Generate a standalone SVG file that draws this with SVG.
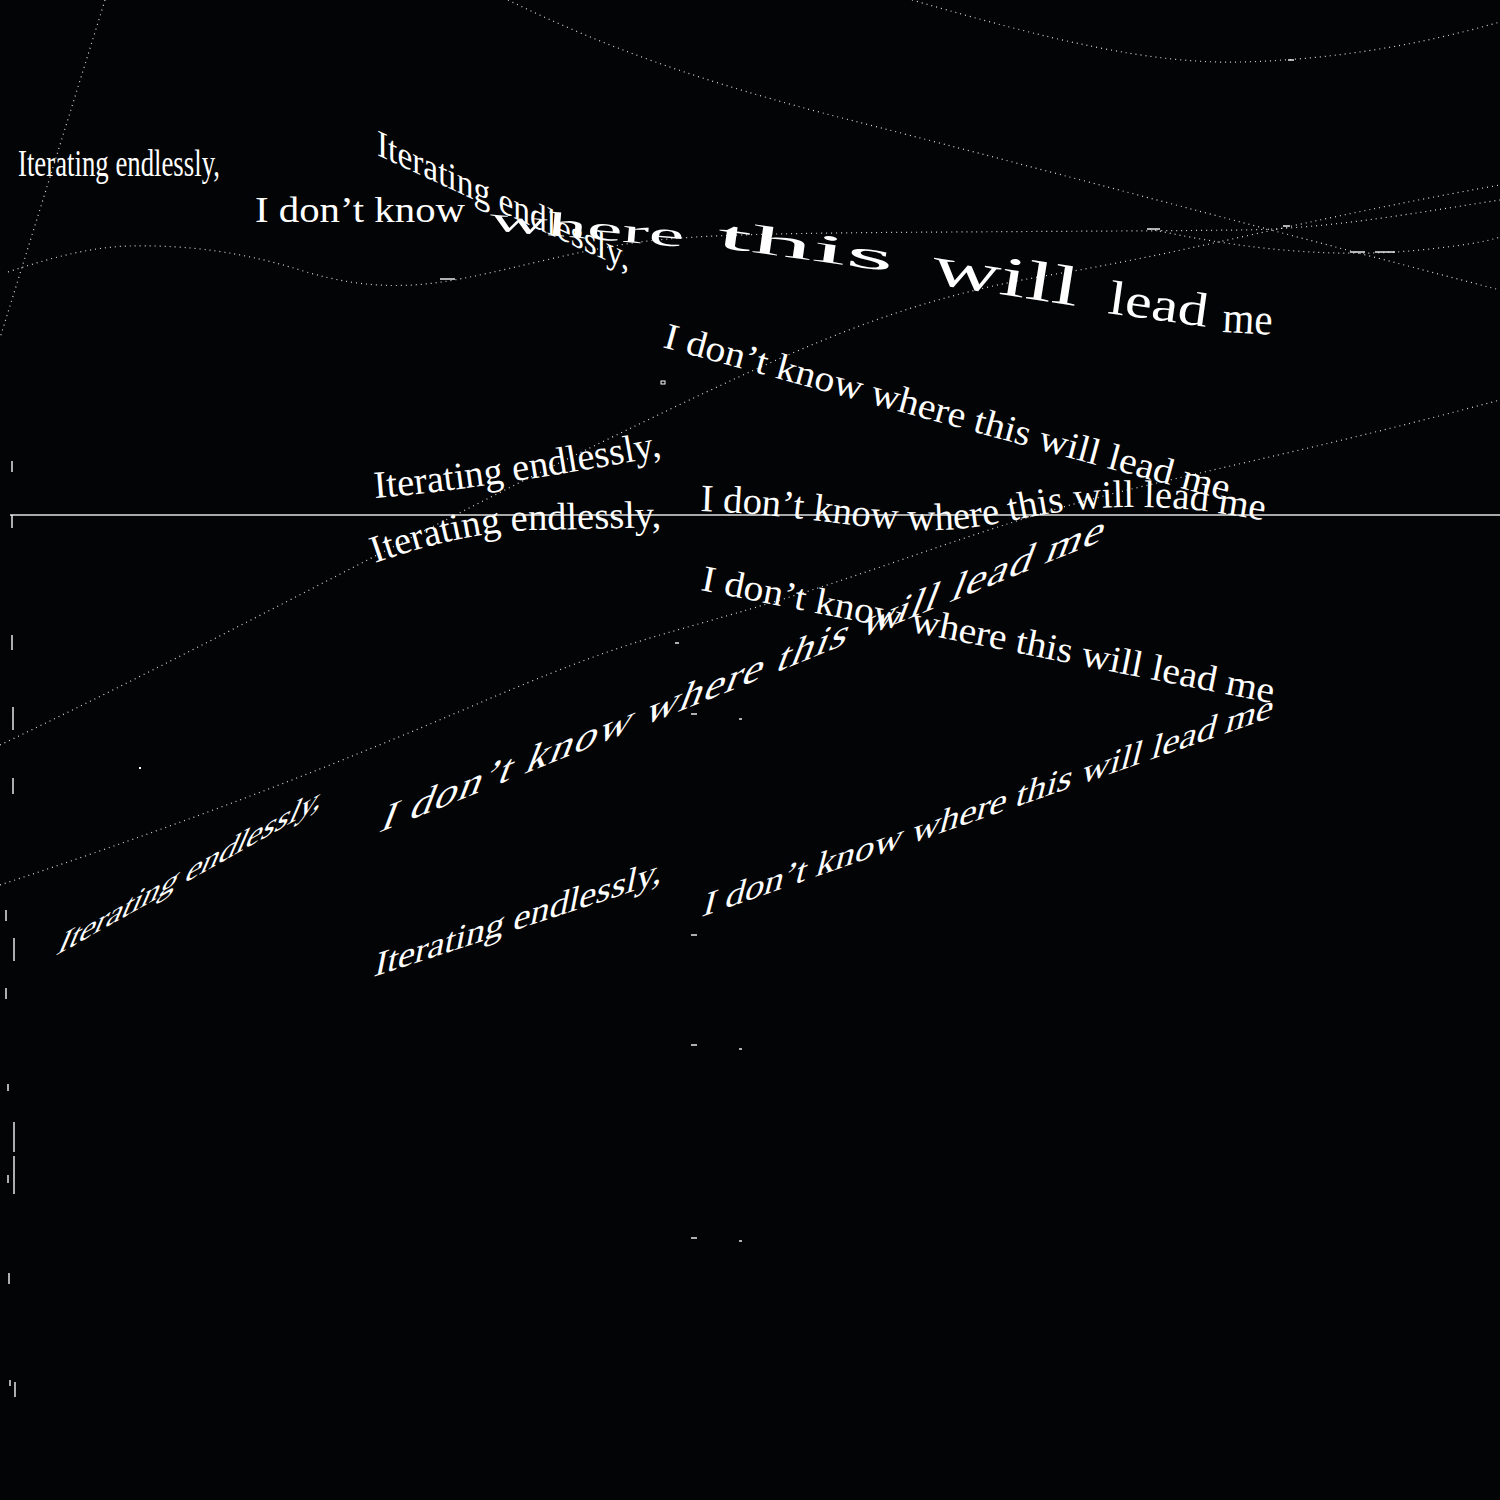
<svg xmlns="http://www.w3.org/2000/svg" width="1500" height="1500" viewBox="0 0 1500 1500">
<defs>
<style>
.t{font-family:"Liberation Serif","Times New Roman",serif;fill:#ffffff;}
.dot{fill:none;stroke:#ffffff;stroke-width:1.2;stroke-dasharray:1 4;opacity:0.85;}
.tick{stroke:#ffffff;stroke-width:1.5;opacity:0.9;}
.dash{stroke:#e8e8e8;stroke-width:1.5;}
</style>
<path id="p5" d="M375,498 Q480,490 668,455"/>
<path id="p6" d="M700,511 C800,514 870,532 940,530 C1000,528 1030,512 1100,508 C1170,504 1220,512 1276,523"/>
<path id="p7" d="M375,563 Q470,530 540,530 L668,527"/>
</defs>
<rect x="0" y="0" width="1500" height="1500" fill="#030405"/>

<g id="lines">
<path class="dot" d="M105,0 L0,338"/>
<path class="dot" d="M508,0 C600,45 700,82 850,120 S1250,225 1500,290"/>
<path class="dot" d="M912,0 C1050,40 1150,64 1240,62 S1420,45 1500,22"/>
<path class="dot" d="M8,272 C50,258 90,247 130,246 S230,248 300,270 S420,287 470,277 S580,250 640,242 S800,233 950,232 S1150,231 1240,230 S1420,212 1500,200"/>
<path class="dot" d="M0,745 C200,650 400,540 600,443 S900,300 1050,275 S1300,220 1500,185"/>
<path class="dot" d="M0,885 C150,835 300,780 470,707 S650,640 780,600 S1000,520 1140,487 S1350,440 1500,400"/>
<path class="dot" d="M1150,229 Q1300,262 1420,250 T1500,222"/>
<line x1="10" y1="515" x2="1500" y2="515" stroke="#a9a9a9" stroke-width="2"/>
<line class="tick" x1="12" y1="515" x2="12" y2="528"/>
</g>

<g id="marks">
<line class="tick" x1="12" y1="461" x2="12" y2="472"/>
<line class="tick" x1="12" y1="635" x2="12" y2="650"/>
<line class="tick" x1="13" y1="707" x2="13" y2="730"/>
<line class="tick" x1="13" y1="778" x2="13" y2="794"/>
<line class="tick" x1="6" y1="910" x2="6" y2="921"/>
<line class="tick" x1="14" y1="938" x2="14" y2="961"/>
<line class="tick" x1="6" y1="988" x2="6" y2="999"/>
<line class="tick" x1="8" y1="1084" x2="8" y2="1091"/>
<line class="tick" x1="14" y1="1122" x2="14" y2="1152"/>
<line class="tick" x1="14" y1="1156" x2="14" y2="1194"/>
<line class="tick" x1="8" y1="1175" x2="8" y2="1183"/>
<line class="tick" x1="9" y1="1273" x2="9" y2="1284"/>
<line class="tick" x1="15" y1="1382" x2="15" y2="1397"/>
<line class="tick" x1="10" y1="1380" x2="10" y2="1386"/>
<rect x="661" y="381" width="4" height="3" fill="none" stroke="#ffffff" stroke-width="1"/>
<rect x="139" y="767" width="2" height="2" fill="#ffffff"/>
<line class="dash" x1="440" y1="279" x2="455" y2="279"/>
<line class="dash" x1="1147" y1="229" x2="1160" y2="229"/>
<line class="dash" x1="1283" y1="226" x2="1290" y2="226"/>
<line class="dash" x1="1350" y1="252" x2="1365" y2="252"/>
<line class="dash" x1="1375" y1="252" x2="1395" y2="252"/>
<line class="dash" x1="1288" y1="60" x2="1294" y2="60"/>
<line class="dash" x1="675" y1="643" x2="679" y2="643"/>
<line class="dash" x1="691" y1="714" x2="697" y2="714"/>
<line class="dash" x1="739" y1="719" x2="742" y2="719"/>
<line class="dash" x1="691" y1="935" x2="697" y2="935"/>
<line class="dash" x1="691" y1="1045" x2="697" y2="1045"/>
<line class="dash" x1="739" y1="1049" x2="742" y2="1049"/>
<line class="dash" x1="691" y1="1238" x2="697" y2="1238"/>
<line class="dash" x1="739" y1="1241" x2="742" y2="1241"/>
</g>

<g id="text1"><text class="t" x="18" y="176" font-size="37" textLength="202" lengthAdjust="spacingAndGlyphs">Iterating endlessly,</text></g>

<g id="text2">
<text class="t" x="255" y="222" font-size="36" textLength="210" lengthAdjust="spacingAndGlyphs">I don’t know</text>
<text class="t" font-size="34" textLength="195" lengthAdjust="spacingAndGlyphs" transform="translate(489,230) rotate(5)">where</text>
<text class="t" font-size="40" textLength="178" lengthAdjust="spacingAndGlyphs" transform="translate(716,247) rotate(8)">this</text>
<text class="t" font-size="56" textLength="148" lengthAdjust="spacingAndGlyphs" transform="translate(930,283) rotate(9)">will</text>
<text class="t" font-size="48" textLength="100" lengthAdjust="spacingAndGlyphs" transform="translate(1107,313) rotate(8)">lead</text>
<text class="t" font-size="44" textLength="50" lengthAdjust="spacingAndGlyphs" transform="translate(1222,332) rotate(3)">me</text>
</g>

<g id="text3"><text class="t" font-size="38" textLength="252" lengthAdjust="spacingAndGlyphs" transform="matrix(1,0.46,0,1,377,155)">Iterating endlessly,</text></g>

<g id="text4"><text class="t" font-size="37" textLength="585" lengthAdjust="spacingAndGlyphs" transform="translate(662,347) rotate(15.2)">I don’t know where this will lead me</text></g>

<g id="text5"><text class="t" font-size="38.5"><textPath href="#p5">Iterating endlessly,</textPath></text></g>

<g id="text6"><text class="t" font-size="38.5"><textPath href="#p6">I don’t know where this will lead me</textPath></text></g>

<g id="text7"><text class="t" font-size="38.5"><textPath href="#p7">Iterating endlessly,</textPath></text></g>

<g id="text8"><text class="t" font-size="37" textLength="583" lengthAdjust="spacingAndGlyphs" transform="translate(700,590) rotate(11.2)">I don’t know where this will lead me</text></g>

<g id="text9"><text class="t" font-size="45" textLength="722" transform="matrix(1,-0.404,-0.36,0.94,378,833)">I don’t know where this will lead me</text></g>

<g id="text10"><text class="t" font-size="38" textLength="265" lengthAdjust="spacingAndGlyphs" transform="matrix(1,-0.564,-0.4,0.93,55,956)">Iterating endlessly,</text></g>

<g id="text11"><text class="t" font-size="37" textLength="288" lengthAdjust="spacingAndGlyphs" transform="matrix(1,-0.33,-0.2,0.98,373,977)">Iterating endlessly,</text></g>

<g id="text12"><text class="t" font-size="37" textLength="570" lengthAdjust="spacingAndGlyphs" transform="matrix(1,-0.35,-0.25,0.97,701,917)">I don’t know where this will lead me</text></g>
</svg>
